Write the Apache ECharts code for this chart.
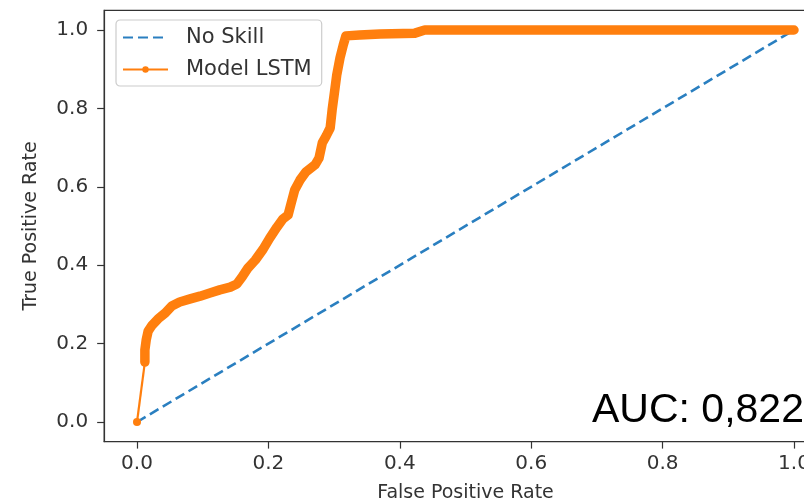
<!DOCTYPE html>
<html>
<head>
<meta charset="utf-8">
<script src="https://cdn.jsdelivr.net/npm/echarts@6/dist/echarts.min.js"></script>
<style>html,body{margin:0;padding:0;background:#fff;}#c{width:804px;height:503px;}</style>
</head>
<body>
<div id="c"></div>
<script>
// ROC data
var noSkillFpr = [0, 1];
var noSkillTpr = [0, 1];
var lstmFpr = [0, 0.012, 0.012, 0.014, 0.017, 0.023, 0.032, 0.043, 0.053, 0.065, 0.081, 0.096, 0.111, 0.126, 0.142, 0.152, 0.160, 0.169, 0.180, 0.192, 0.202, 0.213, 0.222, 0.230, 0.234, 0.240, 0.248, 0.257, 0.271, 0.277, 0.282, 0.288, 0.294, 0.297, 0.300, 0.304, 0.309, 0.314, 0.318, 0.339, 0.370, 0.423, 0.438, 1.0];
var lstmTpr = [0, 0.153, 0.184, 0.209, 0.232, 0.247, 0.263, 0.278, 0.296, 0.306, 0.314, 0.321, 0.329, 0.337, 0.344, 0.352, 0.370, 0.393, 0.413, 0.441, 0.469, 0.497, 0.518, 0.528, 0.554, 0.592, 0.617, 0.638, 0.656, 0.673, 0.712, 0.730, 0.750, 0.796, 0.834, 0.885, 0.929, 0.962, 0.985, 0.987, 0.990, 0.992, 1.0, 1.0];
var tickValues = [0, 0.2, 0.4, 0.6, 0.8, 1.0];
var xName = 'False Positive Rate';
var yName = 'True Positive Rate';
var aucText = 'AUC: 0,822';

function pairs(xs, ys, a, b) {
  var out = [];
  for (var i = a; i < b; i++) out.push([xs[i], ys[i]]);
  return out;
}

var chart = echarts.init(document.getElementById('c'));
var txt = '#333';
var axisCommon = {
  type: 'value',
  min: -0.05,
  max: 1.05,
  splitLine: { show: false },
  axisLine: { show: true, onZero: false, lineStyle: { color: '#333', width: 1.2 } },
  axisTick: { show: true, inside: false, length: 7, lineStyle: { color: '#333', width: 1.2 }, customValues: tickValues },
  axisLabel: { color: txt, fontFamily: 'DejaVu Sans', fontSize: 20, customValues: tickValues,
    formatter: function (v) { return v.toFixed(1); } },
  nameLocation: 'middle',
  nameTextStyle: { color: txt, fontFamily: 'DejaVu Sans', fontSize: 19 }
};

chart.setOption({
  animation: false,
  backgroundColor: '#fff',
  grid: { left: 104.15, top: 10.4, width: 722.7, height: 431.2, show: true, borderColor: '#333', borderWidth: 1.2,
    backgroundColor: 'transparent', containLabel: false, outerBoundsMode: 'none' },
  xAxis: Object.assign({}, axisCommon, { name: xName, nameGap: 42,
    axisLabel: Object.assign({}, axisCommon.axisLabel, { margin: 12 }) }),
  yAxis: Object.assign({}, axisCommon, { name: yName, nameGap: 64, nameRotate: 90,
    axisLabel: Object.assign({}, axisCommon.axisLabel, { margin: 16 }) }),
  legend: {
    data: [
      { name: 'No Skill', itemStyle: { color: 'rgba(0,0,0,0)', borderWidth: 0 } },
      { name: 'Model LSTM' }
    ],
    orient: 'vertical',
    left: 116, top: 20,
    padding: [7, 10, 6, 6],
    itemWidth: 45, itemHeight: 8, itemGap: 11,
    borderColor: '#cccccc', borderWidth: 1.2, borderRadius: 4,
    backgroundColor: 'rgba(255,255,255,0.8)',
    textStyle: { color: txt, fontFamily: 'DejaVu Sans', fontSize: 21, lineHeight: 20, padding: [0, 0, 0, 13] }
  },
  series: [
    {
      name: 'No Skill', type: 'line', data: pairs(noSkillFpr, noSkillTpr, 0, noSkillFpr.length),
      showSymbol: false, symbol: 'none', z: 2,
      lineStyle: { color: '#2a7fc0', width: 2.6, type: [10, 5] },
      itemStyle: { color: '#2a7fc0' }
    },
    {
      name: 'Model LSTM', type: 'line', data: pairs(lstmFpr, lstmTpr, 0, 2),
      symbol: 'circle', symbolSize: 8, showSymbol: true, z: 3,
      lineStyle: { color: '#ff7f0e', width: 2.2 },
      itemStyle: { color: '#ff7f0e' }
    },
    {
      name: 'Model LSTM', type: 'line', data: pairs(lstmFpr, lstmTpr, 1, lstmFpr.length),
      showSymbol: false, symbol: 'none', z: 4,
      lineStyle: { color: '#ff7f0e', width: 9.5, cap: 'round', join: 'round' },
      itemStyle: { color: '#ff7f0e' }
    }
  ],
  graphic: [{
    type: 'text', left: 592, top: 390, z: 100,
    style: { text: aucText, fill: '#000', font: '41px "Liberation Sans"' }
  }]
});
</script>
</body>
</html>
